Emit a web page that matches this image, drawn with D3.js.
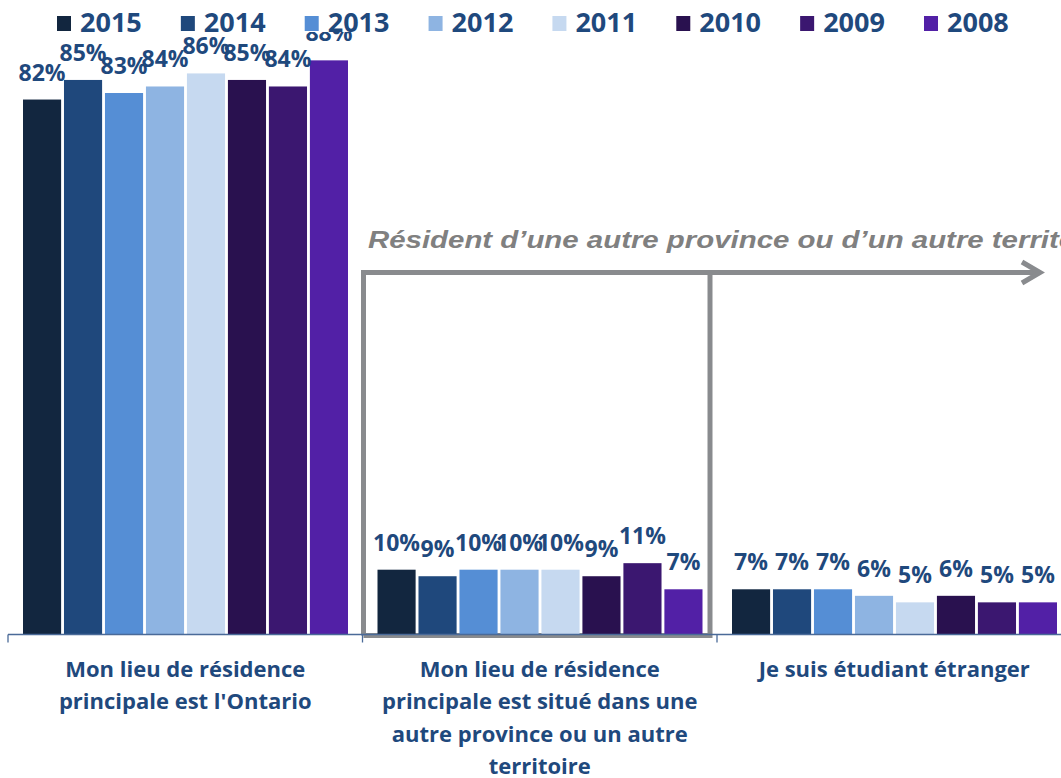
<!DOCTYPE html>
<html lang="fr">
<head>
<meta charset="utf-8">
<script src="https://cdn.jsdelivr.net/npm/d3@7"></script>
<style>
  html, body { margin: 0; padding: 0; background: #ffffff; overflow: hidden; }
  svg { display: block; }
</style>
</head>
<body>
<svg id="chart" width="1061" height="778"></svg>
<script>
// Lieu de résidence principale, par année d'enquête
const years = ["2015", "2014", "2013", "2012", "2011", "2010", "2009", "2008"];
const categories = ["ontario", "autre", "etranger"];
const categoryLines = [
  ["Mon lieu de résidence", "principale est l'Ontario"],
  ["Mon lieu de résidence", "principale est situé dans une", "autre province ou un autre", "territoire"],
  ["Je suis étudiant étranger"]
];
const valuesOntario  = [82, 85, 83, 84, 86, 85, 84, 88];
const valuesAutre    = [10, 9, 10, 10, 10, 9, 11, 7];
const valuesEtranger = [7, 7, 7, 6, 5, 6, 5, 5];
const seriesByCategory = [valuesOntario, valuesAutre, valuesEtranger];
const annotationText = "Résident d\u2019une autre province ou d\u2019un autre territoire";

const colors = ["#12263f", "#1f487c", "#558ed5", "#8eb4e2", "#c6d9f0", "#29114f", "#3b1770", "#5220a6"];
const textBlue = "#1f497d";
const grey = "#898b8e";
const mainFont = "'Open Sans', Lato, sans-serif";

const svg = d3.select("#chart");

const x0 = d3.scaleBand().domain(categories).range([8, 1071.5]);
const x1 = d3.scaleBand().domain(years).range([15, 340]).paddingInner(0.07);
const y = d3.scaleLinear().domain([0, 100]).range([635, -18]);
const color = d3.scaleOrdinal().domain(years).range(colors);
const baseY = 634.5;

const rows = categories.map((c, i) => ({
  cat: c,
  lines: categoryLines[i],
  items: years.map((yr, j) => ({ year: yr, value: seriesByCategory[i][j] }))
}));

// bracket marking the "other province" group
const bx1 = 363.5, bx2 = 710, by = 272.5;
const bracket = svg.append("g")
  .attr("fill", "none").attr("stroke", grey).attr("stroke-width", 5);
bracket.append("path")
  .attr("d", `M${bx1},${baseY + 1} V${by} H1040`)
  .attr("stroke-linejoin", "miter");
bracket.append("path")
  .attr("d", `M${bx2},${by} V${baseY + 1} H${bx1}`);
bracket.append("path")
  .attr("d", `M1022,262 L1040,${by} L1022,283`)
  .attr("stroke-linejoin", "miter").attr("stroke-linecap", "butt");

svg.append("text")
  .attr("transform", "translate(368,248) scale(1.225,1)")
  .attr("font-family", "'Liberation Sans', Arial, sans-serif")
  .attr("font-style", "italic").attr("font-weight", "bold")
  .attr("font-size", 24)
  .attr("fill", "#808080")
  .text(annotationText);

// bars
const groups = svg.append("g").selectAll("g")
  .data(rows).join("g")
  .attr("transform", d => `translate(${x0(d.cat)},0)`);

groups.selectAll("rect")
  .data(d => d.items).join("rect")
  .attr("x", d => x1(d.year))
  .attr("y", d => y(d.value))
  .attr("width", x1.bandwidth())
  .attr("height", d => baseY - y(d.value))
  .attr("fill", d => color(d.year));

groups.selectAll("text.val")
  .data(d => d.items).join("text")
  .attr("class", "val")
  .attr("x", d => x1(d.year) + x1.bandwidth() / 2)
  .attr("y", d => y(d.value) - 19)
  .attr("text-anchor", "middle")
  .attr("font-family", mainFont)
  .attr("font-weight", "bold")
  .attr("font-size", 23)
  .attr("fill", textBlue)
  .text(d => d.value + "%");

// category axis
const axis = svg.append("g").attr("stroke", "#4a6a98").attr("stroke-width", 1.3);
axis.append("line").attr("x1", 8).attr("x2", 1061).attr("y1", baseY).attr("y2", baseY);
axis.selectAll("line.tick")
  .data(categories.concat(["end"])).join("line")
  .attr("class", "tick")
  .attr("x1", (d, i) => i < categories.length ? x0(d) : x0.range()[1])
  .attr("x2", (d, i) => i < categories.length ? x0(d) : x0.range()[1])
  .attr("y1", baseY).attr("y2", baseY + 8);

// category labels
svg.append("g").selectAll("text")
  .data(rows).join("text")
  .attr("text-anchor", "middle")
  .attr("font-family", mainFont)
  .attr("font-weight", "bold")
  .attr("font-size", 22)
  .attr("fill", textBlue)
  .each(function (d) {
    const t = d3.select(this);
    d.lines.forEach((ln, k) => {
      t.append("tspan")
        .attr("x", x0(d.cat) + x0.bandwidth() / 2)
        .attr("y", 677 + k * 32.3)
        .text(ln);
    });
  });

// legend (on a white panel above the plot)
const lx = d3.scalePoint().domain(years).range([57, 924]);
svg.append("rect").attr("x", 40).attr("y", 0).attr("width", 1000).attr("height", 32).attr("fill", "#ffffff");
const leg = svg.append("g").selectAll("g")
  .data(years).join("g")
  .attr("transform", d => `translate(${lx(d)},0)`);
leg.append("rect")
  .attr("x", 0).attr("y", 16).attr("width", 14).attr("height", 15)
  .attr("fill", d => color(d));
leg.append("text")
  .attr("x", 23).attr("y", 31.5)
  .attr("font-family", mainFont)
  .attr("font-weight", "bold")
  .attr("font-size", 27)
  .attr("fill", textBlue)
  .text(d => d);
</script>
</body>
</html>
